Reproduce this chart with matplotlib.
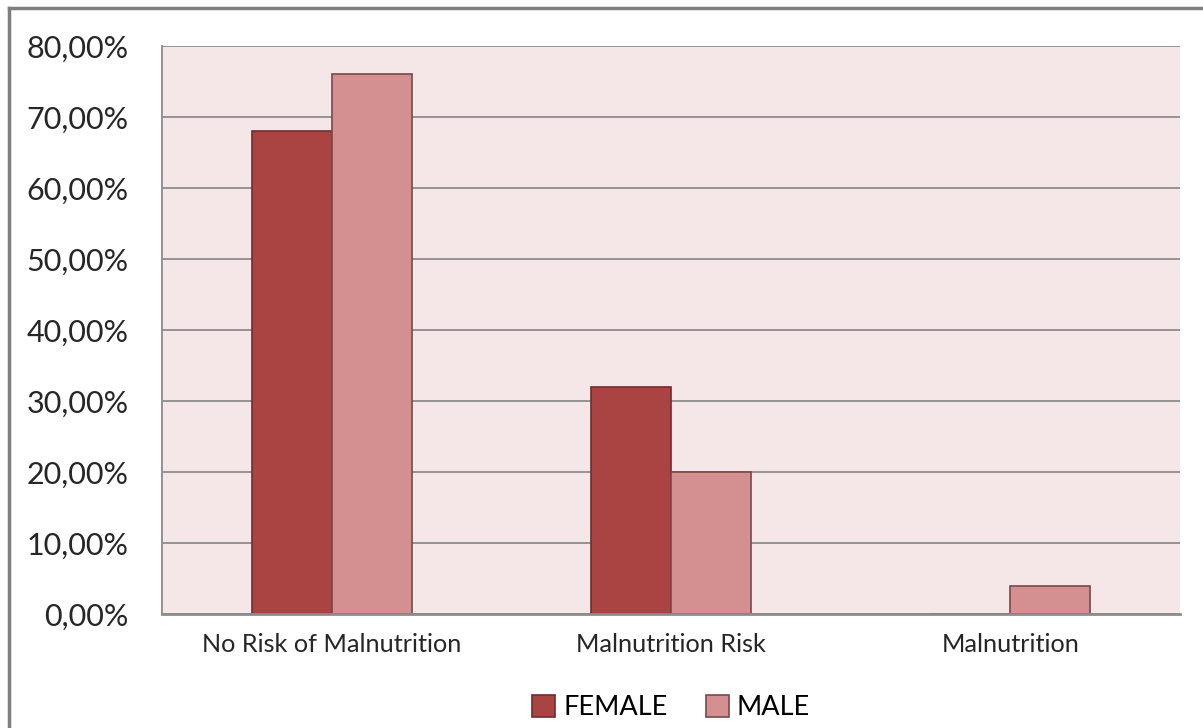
import numpy as np
import matplotlib.pyplot as plt
from matplotlib.lines import Line2D

# datos
categories = ['No Risk of Malnutrition', 'Malnutrition Risk', 'Malnutrition']
female = [68.0, 32.0, 0.0]
male = [76.0, 20.0, 4.0]
yticks = [0, 10, 20, 30, 40, 50, 60, 70, 80]

plt.rcParams['font.family'] = ['Lato', 'DejaVu Sans']

fig = plt.figure(figsize=(12.03, 7.28), dpi=100)
ax = fig.add_axes([162 / 1203, 114 / 728, 1018 / 1203, 568 / 728])
ax.set_facecolor('#F5E6E8')

x = np.arange(len(categories))
w = 0.236
ax.bar(x - w / 2, female, width=w, color='#A94442', edgecolor='#6E2E2E', linewidth=1.2,
       label='FEMALE')
ax.bar(x + w / 2, male, width=w, color='#D49090', edgecolor='#7A4848', linewidth=1.2,
       label='MALE')

ax.set_xlim(-0.5, 2.5)
ax.set_ylim(0, 80)
ax.set_yticks(yticks)
ax.set_yticklabels([f'{v},00%' for v in yticks], fontsize=22, color='#262626')
ax.set_xticks(x)
ax.set_xticklabels(categories, fontsize=18.2, color='#262626')
ax.tick_params(axis='both', length=0)
ax.tick_params(axis='y', pad=24)
ax.tick_params(axis='x', pad=14)
ax.yaxis.grid(True, color='#8C8C8C', linewidth=1.3)
ax.set_axisbelow(True)
for s in ['top', 'right']:
    ax.spines[s].set_visible(False)
ax.spines['left'].set_color('#8C8C8C')
ax.spines['bottom'].set_color('#8C8C8C')
ax.spines['left'].set_linewidth(1.3)
ax.spines['bottom'].set_linewidth(2)
ax.spines['bottom'].set_zorder(4)

ax.legend(loc='center', bbox_to_anchor=(0.5, -0.165), ncol=2, frameon=False, fontsize=19.5,
          handlelength=0.85, handleheight=0.85, handletextpad=0.3, columnspacing=1.4)

# marco gris de la figura
fig.add_artist(Line2D([9 / 1203, 1], [1 - 8 / 728, 1 - 8 / 728], color='#7F7F7F', linewidth=2.5,
                      transform=fig.transFigure))
fig.add_artist(Line2D([9 / 1203, 9 / 1203], [0, 1 - 8 / 728], color='#7F7F7F', linewidth=2.5,
                      transform=fig.transFigure))

fig.savefig('out.png', dpi=100)
